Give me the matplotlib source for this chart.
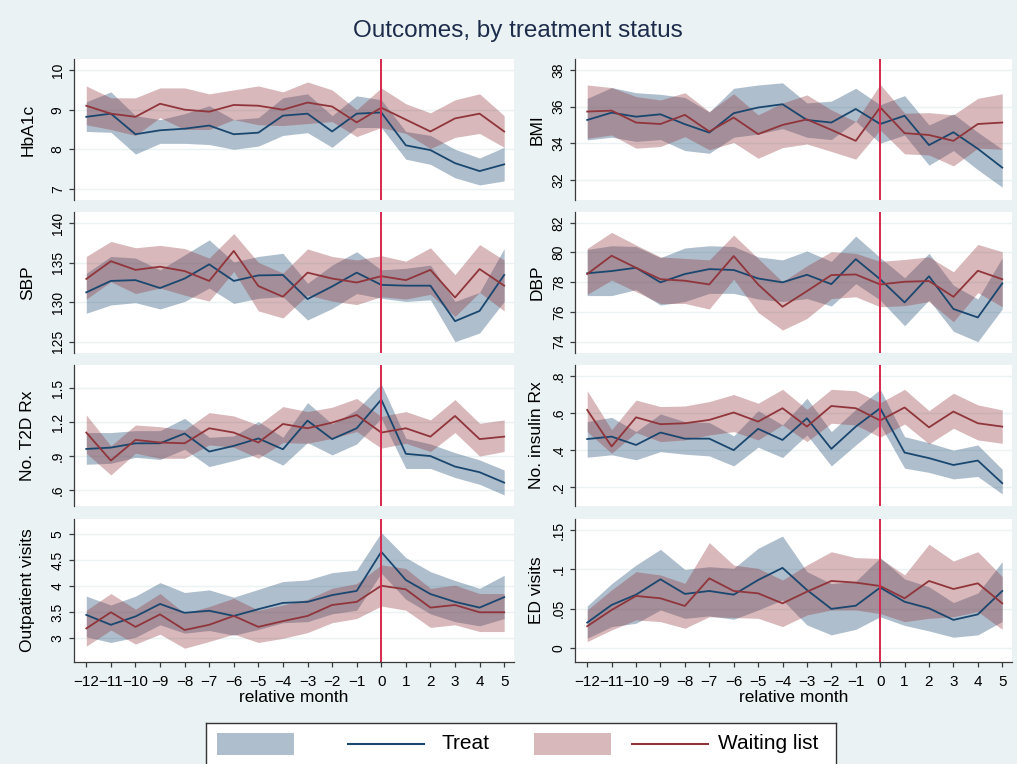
import matplotlib.pyplot as plt
from matplotlib.patches import Rectangle

plt.rcParams['font.family'] = ['Liberation Sans', 'DejaVu Sans']

months = list(range(-12, 6))
month_labels = [str(m).replace('-', '\u2212') for m in months]

# HbA1c
hba1c_tr = [8.82, 8.90, 8.38, 8.48, 8.52, 8.60, 8.38, 8.42, 8.85, 8.90, 8.45, 8.90, 8.93, 8.10, 7.98, 7.65, 7.45, 7.62]
hba1c_tr_lo = [8.45, 8.43, 7.88, 8.15, 8.15, 8.12, 8.00, 8.08, 8.35, 8.42, 8.05, 8.55, 8.55, 7.75, 7.62, 7.28, 7.10, 7.20]
hba1c_tr_hi = [9.20, 9.45, 8.85, 8.75, 8.90, 9.10, 8.75, 8.80, 9.30, 9.40, 8.85, 9.35, 9.25, 8.45, 8.35, 8.00, 7.78, 8.05]
hba1c_wl = [9.10, 8.90, 8.82, 9.15, 9.00, 8.95, 9.12, 9.10, 9.00, 9.18, 9.08, 8.68, 9.05, 8.75, 8.45, 8.78, 8.90, 8.45]
hba1c_wl_lo = [8.62, 8.50, 8.35, 8.80, 8.50, 8.50, 8.75, 8.62, 8.60, 8.65, 8.70, 8.32, 8.55, 8.40, 8.02, 8.30, 8.40, 8.05]
hba1c_wl_hi = [9.60, 9.30, 9.30, 9.55, 9.55, 9.40, 9.50, 9.60, 9.45, 9.70, 9.50, 9.00, 9.55, 9.15, 8.92, 9.25, 9.40, 8.85]

# BMI
bmi_tr = [35.27, 35.67, 35.45, 35.58, 35.04, 34.58, 35.64, 35.95, 36.13, 35.27, 35.13, 35.87, 35.05, 35.50, 33.90, 34.60, 33.70, 32.67]
bmi_tr_lo = [34.18, 34.33, 34.10, 34.20, 33.60, 33.45, 34.33, 34.50, 34.80, 34.33, 34.20, 35.20, 34.00, 34.45, 32.80, 33.60, 32.55, 31.60]
bmi_tr_hi = [36.45, 37.04, 36.76, 36.67, 36.50, 35.70, 37.00, 37.18, 37.30, 36.20, 36.30, 37.00, 36.10, 36.60, 35.00, 35.60, 34.60, 33.67]
bmi_wl = [35.73, 35.78, 35.13, 35.05, 35.55, 34.64, 35.40, 34.50, 35.00, 35.30, 34.73, 34.13, 35.96, 34.55, 34.45, 34.13, 35.05, 35.13]
bmi_wl_lo = [34.27, 34.45, 33.73, 33.82, 34.36, 33.64, 34.04, 33.18, 33.76, 33.96, 33.55, 33.13, 34.73, 33.42, 33.36, 32.76, 33.73, 33.67]
bmi_wl_hi = [37.18, 37.04, 36.55, 36.36, 36.76, 35.73, 36.70, 35.55, 36.20, 36.64, 35.82, 35.18, 37.22, 35.64, 35.67, 35.55, 36.45, 36.70]

# SBP
sbp_tr = [131.25, 132.7, 132.8, 131.8, 133.0, 134.8, 132.7, 133.4, 133.45, 130.4, 132.0, 133.75, 132.2, 132.1, 132.1, 127.6, 128.9, 133.45]
sbp_tr_lo = [128.6, 129.65, 129.95, 129.15, 130.1, 131.8, 129.85, 130.5, 130.7, 127.75, 129.2, 131.1, 130.5, 130.1, 130.3, 125.0, 126.1, 130.1]
sbp_tr_hi = [133.66, 135.8, 135.6, 134.1, 136.0, 137.9, 135.1, 135.8, 136.2, 132.4, 134.7, 136.4, 134.1, 134.3, 134.7, 130.1, 131.25, 136.8]
sbp_wl = [132.95, 135.2, 134.1, 134.5, 133.95, 132.7, 136.5, 132.05, 130.7, 133.75, 133.0, 132.5, 133.3, 132.8, 134.1, 130.6, 134.2, 132.1]
sbp_wl_lo = [130.4, 132.6, 131.1, 131.8, 130.9, 130.15, 133.9, 128.9, 128.0, 130.9, 130.15, 129.7, 130.7, 130.4, 131.0, 128.2, 131.25, 128.9]
sbp_wl_hi = [135.8, 137.7, 136.9, 137.2, 136.8, 135.6, 138.7, 135.05, 133.7, 136.75, 135.8, 135.35, 135.9, 135.2, 136.9, 133.5, 137.3, 135.35]

# DBP
dbp_tr = [78.6, 78.75, 78.97, 77.99, 78.55, 78.88, 78.82, 78.25, 77.99, 78.5, 77.87, 79.55, 78.2, 76.64, 78.4, 76.2, 75.63, 77.92]
dbp_tr_lo = [77.1, 77.1, 77.5, 76.46, 76.7, 77.25, 77.25, 76.87, 76.7, 76.9, 76.4, 77.9, 76.8, 75.07, 76.8, 74.7, 74.0, 76.2]
dbp_tr_hi = [80.2, 80.45, 80.4, 79.65, 80.3, 80.45, 80.4, 79.7, 79.5, 80.1, 79.4, 81.1, 79.65, 78.3, 79.94, 77.8, 76.87, 79.65]
dbp_wl = [78.55, 79.78, 78.97, 78.2, 78.1, 77.85, 79.76, 77.85, 76.35, 77.4, 78.48, 78.52, 77.85, 78.03, 78.08, 77.02, 78.77, 78.2]
dbp_wl_lo = [77.18, 78.14, 77.36, 76.57, 76.57, 76.2, 78.2, 75.97, 74.78, 75.56, 76.9, 77.02, 76.35, 76.42, 76.7, 75.34, 77.3, 76.35]
dbp_wl_hi = [80.27, 81.35, 80.5, 79.7, 79.6, 79.5, 81.17, 79.6, 78.03, 79.1, 80.05, 79.94, 79.4, 79.53, 79.7, 78.7, 80.54, 80.05]

# number of type 2 diabetes prescriptions
t2d_tr = [0.963, 0.975, 1.013, 1.013, 1.10, 0.94, 0.99, 1.056, 0.96, 1.214, 1.05, 1.146, 1.40, 0.92, 0.90, 0.807, 0.757, 0.665]
t2d_tr_lo = [0.827, 0.836, 0.889, 0.87, 0.96, 0.807, 0.86, 0.92, 0.82, 1.019, 0.91, 1.007, 1.234, 0.79, 0.79, 0.71, 0.65, 0.556]
t2d_tr_hi = [1.108, 1.108, 1.125, 1.125, 1.234, 1.066, 1.078, 1.205, 1.066, 1.373, 1.184, 1.31, 1.538, 1.057, 1.007, 0.93, 0.866, 0.777]
t2d_wl = [1.108, 0.86, 1.043, 1.02, 1.013, 1.146, 1.108, 1.02, 1.184, 1.146, 1.196, 1.264, 1.108, 1.146, 1.072, 1.255, 1.05, 1.072]
t2d_wl_lo = [0.925, 0.733, 0.925, 0.88, 0.88, 0.999, 0.978, 0.88, 1.019, 1.013, 1.057, 1.117, 0.97, 1.013, 0.94, 1.108, 0.90, 0.94]
t2d_wl_hi = [1.264, 0.99, 1.175, 1.16, 1.13, 1.285, 1.255, 1.175, 1.338, 1.294, 1.332, 1.41, 1.25, 1.294, 1.22, 1.40, 1.19, 1.22]

# number of insulin prescriptions
ins_tr = [0.46, 0.473, 0.428, 0.495, 0.462, 0.462, 0.40, 0.515, 0.455, 0.572, 0.407, 0.527, 0.626, 0.387, 0.357, 0.32, 0.344, 0.222]
ins_tr_lo = [0.362, 0.375, 0.348, 0.392, 0.378, 0.369, 0.315, 0.416, 0.36, 0.482, 0.315, 0.428, 0.536, 0.303, 0.28, 0.245, 0.258, 0.164]
ins_tr_hi = [0.554, 0.577, 0.50, 0.595, 0.554, 0.549, 0.477, 0.613, 0.536, 0.68, 0.50, 0.62, 0.728, 0.473, 0.44, 0.40, 0.428, 0.297]
ins_wl = [0.617, 0.42, 0.577, 0.54, 0.545, 0.563, 0.603, 0.554, 0.626, 0.527, 0.638, 0.626, 0.56, 0.63, 0.523, 0.608, 0.545, 0.527]
ins_wl_lo = [0.50, 0.383, 0.495, 0.446, 0.455, 0.482, 0.50, 0.455, 0.536, 0.446, 0.545, 0.536, 0.47, 0.541, 0.434, 0.518, 0.455, 0.437]
ins_wl_hi = [0.72, 0.51, 0.67, 0.635, 0.638, 0.662, 0.70, 0.653, 0.728, 0.62, 0.728, 0.72, 0.656, 0.728, 0.613, 0.707, 0.644, 0.617]

# outpatient visits
opv_tr = [3.45, 3.26, 3.42, 3.66, 3.49, 3.53, 3.43, 3.56, 3.68, 3.70, 3.83, 3.91, 4.66, 4.12, 3.85, 3.70, 3.59, 3.79]
opv_tr_lo = [3.03, 2.92, 3.02, 3.26, 3.10, 3.15, 3.06, 3.17, 3.30, 3.32, 3.47, 3.54, 4.25, 3.75, 3.47, 3.32, 3.24, 3.38]
opv_tr_hi = [3.81, 3.64, 3.81, 4.07, 3.88, 3.93, 3.79, 3.94, 4.09, 4.12, 4.26, 4.31, 5.03, 4.55, 4.28, 4.11, 3.96, 4.21]
opv_wl = [3.19, 3.50, 3.22, 3.46, 3.16, 3.26, 3.43, 3.22, 3.33, 3.43, 3.64, 3.70, 4.01, 3.94, 3.59, 3.64, 3.50, 3.50]
opv_wl_lo = [2.85, 3.16, 2.89, 3.08, 2.81, 2.94, 3.08, 2.92, 3.00, 3.11, 3.30, 3.38, 3.62, 3.54, 3.21, 3.26, 3.13, 3.13]
opv_wl_hi = [3.54, 3.86, 3.56, 3.86, 3.48, 3.61, 3.77, 3.54, 3.64, 3.75, 3.96, 4.05, 4.41, 4.34, 3.96, 4.02, 3.86, 3.86]

# emergency department visits
ed_tr = [0.0326, 0.055, 0.068, 0.0875, 0.069, 0.0727, 0.068, 0.0866, 0.102, 0.074, 0.050, 0.054, 0.077, 0.059, 0.0507, 0.036, 0.043, 0.0727]
ed_tr_lo = [0.0127, 0.0275, 0.0317, 0.0486, 0.038, 0.041, 0.0368, 0.0486, 0.0613, 0.0296, 0.017, 0.024, 0.040, 0.029, 0.022, 0.014, 0.017, 0.034]
ed_tr_hi = [0.0537, 0.082, 0.1056, 0.1255, 0.100, 0.1035, 0.1014, 0.1268, 0.1424, 0.0972, 0.082, 0.085, 0.115, 0.088, 0.078, 0.058, 0.070, 0.110]
ed_wl = [0.028, 0.0486, 0.0664, 0.0634, 0.0537, 0.0887, 0.0727, 0.0697, 0.057, 0.0718, 0.0854, 0.0833, 0.079, 0.0634, 0.0854, 0.0752, 0.0824, 0.057]
ed_wl_lo = [0.0085, 0.0233, 0.036, 0.0338, 0.0254, 0.040, 0.039, 0.038, 0.0275, 0.0423, 0.0486, 0.0486, 0.044, 0.0338, 0.038, 0.040, 0.0465, 0.024]
ed_wl_hi = [0.0486, 0.074, 0.0972, 0.093, 0.0824, 0.134, 0.1056, 0.1014, 0.0866, 0.1056, 0.1225, 0.115, 0.114, 0.093, 0.132, 0.1107, 0.1225, 0.091]

BG = '#EAF2F3'
TREAT = '#1A476F'
WAIT = '#90353B'
VLINE = '#D6284E'
AXCOL = '#3a3a3a'

# label, treat (mean, lo, hi), waiting (mean, lo, hi), yticks, yticklabels, ylim
panels = [
    ('HbA1c', (hba1c_tr, hba1c_tr_lo, hba1c_tr_hi), (hba1c_wl, hba1c_wl_lo, hba1c_wl_hi),
     [7, 8, 9, 10], ['7', '8', '9', '10'], (6.72, 10.28)),
    ('BMI', (bmi_tr, bmi_tr_lo, bmi_tr_hi), (bmi_wl, bmi_wl_lo, bmi_wl_hi),
     [32, 34, 36, 38], ['32', '34', '36', '38'], (30.9, 38.6)),
    ('SBP', (sbp_tr, sbp_tr_lo, sbp_tr_hi), (sbp_wl, sbp_wl_lo, sbp_wl_hi),
     [125, 130, 135, 140], ['125', '130', '135', '140'], (123.57, 141.43)),
    ('DBP', (dbp_tr, dbp_tr_lo, dbp_tr_hi), (dbp_wl, dbp_wl_lo, dbp_wl_hi),
     [74, 76, 78, 80, 82], ['74', '76', '78', '80', '82'], (73.24, 82.72)),
    ('No. T2D Rx', (t2d_tr, t2d_tr_lo, t2d_tr_hi), (t2d_wl, t2d_wl_lo, t2d_wl_hi),
     [0.6, 0.9, 1.2, 1.5], ['.6', '.9', '1.2', '1.5'], (0.458, 1.706)),
    ('No. insulin Rx', (ins_tr, ins_tr_lo, ins_tr_hi), (ins_wl, ins_wl_lo, ins_wl_hi),
     [0.2, 0.4, 0.6, 0.8], ['.2', '.4', '.6', '.8'], (0.099, 0.859)),
    ('Outpatient visits', (opv_tr, opv_tr_lo, opv_tr_hi), (opv_wl, opv_wl_lo, opv_wl_hi),
     [3, 3.5, 4, 4.5, 5], ['3', '3.5', '4', '4.5', '5'], (2.546, 5.29)),
    ('ED visits', (ed_tr, ed_tr_lo, ed_tr_hi), (ed_wl, ed_wl_lo, ed_wl_hi),
     [0, 0.05, 0.1, 0.15], ['0', '.05', '.1', '.15'], (-0.0174, 0.164)),
]

W, H = 1017, 764
col_x = [(74, 514), (575, 1012)]
row_y = [(59, 200), (212, 353), (365, 506), (519, 662)]
ylab_x = [-0.105, -0.087]

fig = plt.figure(figsize=(W / 100, H / 100), dpi=100, facecolor=BG)

for i, (label, tr, wl, yt, ytl, ylim) in enumerate(panels):
    r, c = divmod(i, 2)
    x0, x1 = col_x[c]
    y0, y1 = row_y[r]
    ax = fig.add_axes([x0 / W, 1 - y1 / H, (x1 - x0) / W, (y1 - y0) / H])
    ax.set_facecolor('white')

    ax.fill_between(months, tr[1], tr[2], color=TREAT, alpha=0.35, lw=0)
    ax.plot(months, tr[0], color=TREAT, lw=1.3)
    ax.fill_between(months, wl[1], wl[2], color=WAIT, alpha=0.35, lw=0)
    ax.plot(months, wl[0], color=WAIT, lw=1.3)
    ax.axvline(0, color=VLINE, lw=1.4)

    ax.set_xlim(-12.5, 5.4)
    ax.set_ylim(*ylim)
    ax.set_yticks(yt, ytl, rotation=90, va='center', fontsize=10)
    ax.tick_params(axis='y', length=3.6, width=0.9, color=AXCOL, pad=3)
    ax.grid(axis='y', color=BG, lw=1)
    ax.set_axisbelow(True)

    for s in ['top', 'right']:
        ax.spines[s].set_visible(False)
    ax.spines['left'].set_color(AXCOL)
    ax.spines['left'].set_linewidth(0.9)

    if r == 3:
        ax.spines['bottom'].set_color(AXCOL)
        ax.spines['bottom'].set_linewidth(0.9)
        ax.set_xticks(months, month_labels, fontsize=11)
        ax.tick_params(axis='x', length=3.6, width=0.9, color=AXCOL, pad=5.5)
        ax.set_xlabel('relative month', fontsize=12.5, labelpad=1)
    else:
        ax.spines['bottom'].set_visible(False)
        ax.set_xticks([])

    ax.set_ylabel(label, fontsize=12.5)
    ax.yaxis.label.set_va('center')
    ax.yaxis.set_label_coords(ylab_x[c], 0.5)

fig.text(518 / W, 1 - 31 / H, 'Outcomes, by treatment status', ha='center', va='center',
         fontsize=17.5, color='#1e2c4b')

# legend box along the bottom edge, laid out in pixel units
lax = fig.add_axes([206 / W, -8 / H, 630 / W, 49 / H])
lax.set_xlim(206, 836)
lax.set_ylim(772, 723)
lax.set_xticks([])
lax.set_yticks([])
lax.set_facecolor('white')
for s in lax.spines.values():
    s.set_color('#333333')
    s.set_linewidth(1.0)

keys = [(217, TREAT, 348, 'Treat', 441), (534, WAIT, 632, 'Waiting list', 718)]
for sx, col, lx, txt, tx in keys:
    lax.add_patch(Rectangle((sx, 733), 77, 22, facecolor=col, alpha=0.35, lw=0))
    lax.plot([lx, lx + 76], [744, 744], color=col, lw=1.5)
    lax.text(tx, 744, txt, fontsize=15, va='center', ha='left')

plt.savefig('out.png', dpi=100, facecolor=BG)
plt.close()
